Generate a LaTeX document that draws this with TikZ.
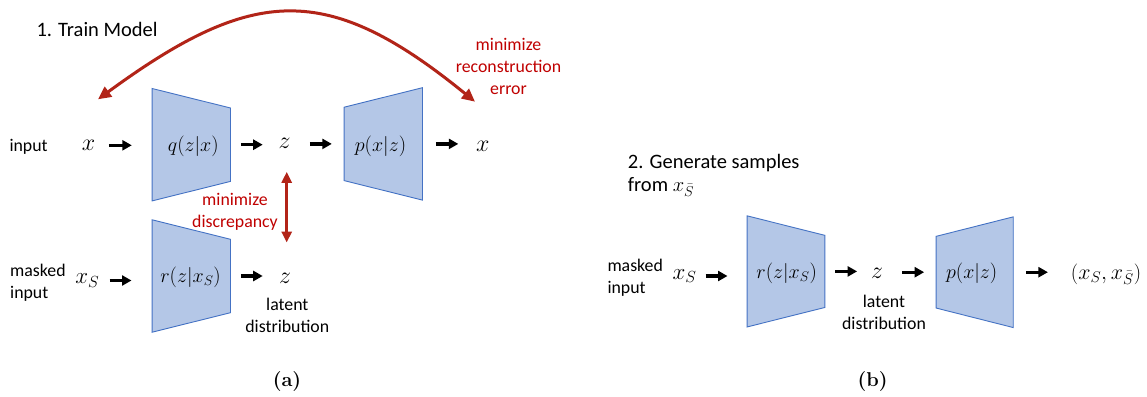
\documentclass[tikz,border=0pt]{standalone}
\usepackage{fontspec}
\newfontfamily\labelfont{Carlito}
\usetikzlibrary{arrows.meta,backgrounds}

% let the math letters and symbols scale to any size
\DeclareFontShape{OML}{cmm}{m}{it}{<->cmmi12}{}
\DeclareFontShape{OMS}{cmsy}{m}{n}{<->cmsy10}{}

\definecolor{trapfill}{HTML}{B4C7E7}
\definecolor{trapline}{HTML}{4472C4}
\definecolor{lossred}{HTML}{B22418}
\definecolor{losstext}{HTML}{C00000}

\tikzset{
  lbl/.style={font=\labelfont\fontsize{17.8}{22}\selectfont, inner sep=0pt},
  ttl/.style={font=\labelfont\fontsize{20.5}{23.4}\selectfont, inner sep=0pt, align=left},
  sym/.style={font=\fontsize{24}{28}\selectfont, inner sep=0pt},
  symsub/.style={font=\fontsize{23}{27}\selectfont, inner sep=0pt},
  tuple/.style={font=\fontsize{22}{26}\selectfont, inner sep=0pt},
  formula/.style={font=\fontsize{20}{24}\selectfont, inner sep=0pt},
  net/.style={inner sep=0pt, minimum width=78pt, minimum height=112pt},
  trap/.style={fill=trapfill, draw=trapline, line width=0.9pt},
  flow/.style={line width=3.3pt, -{Triangle[length=9.5pt,width=10pt]}},
  loss/.style={draw=lossred, line width=3pt,
    {Triangle[length=13pt,width=12pt]}-{Triangle[length=13pt,width=12pt]}},
  lossv/.style={draw=lossred, line width=3.2pt,
    {Triangle[length=11pt,width=10pt]}-{Triangle[length=11pt,width=10pt]}},
  losslbl/.style={lbl, text=losstext, align=center},
  subcap/.style={font=\rmfamily\bfseries\fontsize{20}{22}\selectfont, inner sep=0pt},
}

% encoder narrows to the right, decoder widens to the right
\newcommand\encoder[1]{\path[trap] (#1.north west) -- ([yshift=-19.5pt]#1.north east)
  -- ([yshift=19.5pt]#1.south east) -- (#1.south west) -- cycle;}
\newcommand\decoder[1]{\path[trap] ([yshift=-19.5pt]#1.north west) -- (#1.north east)
  -- (#1.south east) -- ([yshift=19.5pt]#1.south west) -- cycle;}

\begin{document}
\begin{tikzpicture}[x=1pt,y=-1pt]
\useasboundingbox (0,0) rectangle (1147,396);

% ---------- (a) training ----------
\node[ttl, anchor=west] (t1) at (36.3,29.3) {1. Train Model};

\node[lbl, anchor=west] (inA) at (9.3,147.3) {input};
\node[sym] (xa) at (88.5,145.3) {$x$};
\node[net] (q) at (191.3,144.7) {};
\node[formula] (qlab) at (193.3,146) {$q(z|x)$};
\node[sym] (za) at (284.5,143) {$z$};
\node[net] (pa) at (383.3,143.9) {};
\node[formula] (palab) at (380.5,146) {$p(x|z)$};
\node[sym] (xo) at (482.7,146) {$x$};

\node[lbl, anchor=west, align=left] (mA) at (10,282.6) {masked\\input};
\node[symsub] (xsa) at (87.3,280.5) {$x_S$};
\node[net] (ra) at (191.3,276) {};
\node[formula] (ralab) at (190.6,277.7) {$r(z|x_S)$};
\node[sym] (zb) at (285,278) {$z$};
\node[lbl, align=center] (latA) at (287.3,315.3) {latent\\distribution};

\node[losslbl] (rec) at (508.5,66.7) {minimize\\reconstruction\\error};
\node[losslbl] (dis) at (235,211.8) {minimize\\discrepancy};

\node[subcap] (capA) at (287,381.7) {(a)};

\draw[flow, shorten <=13.6pt, shorten >=20.3pt] (xa.east) -- (xa.east -| q.west);
\draw[flow, shorten <=10.4pt, shorten >=15.6pt] (q.east) -- (q.east -| za.west);
\draw[flow, shorten <=19.2pt, shorten >=12.3pt] (pa.west -| za.east) -- (pa.west);
\draw[flow, shorten <=13.4pt, shorten >=17.5pt] (pa.east) -- (pa.east -| xo.west);
\draw[flow, shorten <=10.2pt, shorten >=20.6pt] (xsa.east) -- (xsa.east -| ra.west);
\draw[flow, shorten <=10.4pt, shorten >=16.1pt] (ra.east) -- (ra.east -| zb.west);

% reconstruction loss between input and output
\coordinate (recL) at (98,99.3);
\coordinate (recR) at (475,101.7);
\draw[loss] (recL) .. controls (253,-14) and (327,-19) .. (recR);

% discrepancy between the two latent codes
\draw[lossv, shorten <=23.5pt, shorten >=30.1pt]
  ([xshift=2.2pt]za.south) -- ([xshift=2.2pt]za.south |- zb.north);

% ---------- (b) generation ----------
\node[ttl, anchor=west] (t2) at (627.7,175.2) {2. Generate samples\\from $x_{\bar S}$};

\node[lbl, anchor=west, align=left] (mB) at (607.3,277.6) {masked\\input};
\node[symsub] (xsb) at (684.5,276) {$x_S$};
\node[net, minimum width=77.4pt, minimum height=110.7pt] (rb) at (786,271.4) {};
\node[formula] (rblab) at (786.7,273.3) {$r(z|x_S)$};
\node[sym] (zc) at (877,273) {$z$};
\node[lbl, align=center] (latB) at (884,312.7) {latent\\distribution};
\node[net, minimum width=76.7pt, minimum height=110.3pt] (pb) at (974.7,272.2) {};
\node[formula] (pblab) at (971.7,273) {$p(x|z)$};
\node[tuple] (out) at (1106,274) {$(x_S, x_{\bar S})$};

\node[subcap] (capB) at (872.7,381.7) {(b)};

\draw[flow, shorten <=9pt, shorten >=19.6pt] (xsb.east) -- (xsb.east -| rb.west);
\draw[flow, shorten <=10.3pt, shorten >=13.7pt] (rb.east) -- (rb.east -| zc.west);
\draw[flow, shorten <=19.1pt, shorten >=12pt] (pb.west -| zc.east) -- (pb.west);
\draw[flow, shorten <=13pt, shorten >=22.8pt] (pb.east) -- (pb.east -| out.west);

% network bodies behind their labels
\begin{pgfonlayer}{background}
  \fill[white] (0,0) rectangle (1147,396);
  \encoder{q}
  \decoder{pa}
  \encoder{ra}
  \encoder{rb}
  \decoder{pb}
\end{pgfonlayer}
\end{tikzpicture}
\end{document}
